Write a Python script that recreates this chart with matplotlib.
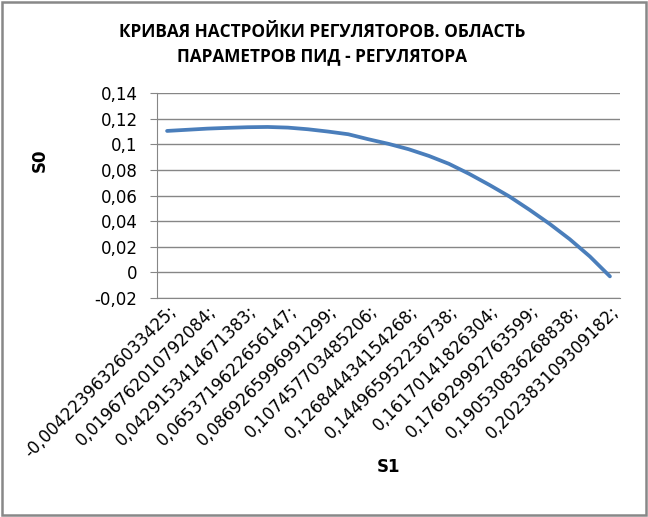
import matplotlib
matplotlib.use("Agg")
from matplotlib import pyplot as plt
from matplotlib.patches import Rectangle

plt.rcParams['font.family'] = ['DejaVu Sans']

# S1 category labels (only every second category is labelled on the chart)
s1_labels = [
    "-0,00422396326033425;", "0,0196762010792084;", "0,0429153414671383;",
    "0,0653719622656147;", "0,0869265996991299;", "0,107457703485206;",
    "0,126844434154268;", "0,144965952236738;", "0,16170141826304;",
    "0,176929992763599;", "0,190530836268838;", "0,202383109309182;",
]

# S0 values, 23 categories
s0 = [0.1106, 0.1115, 0.1124, 0.1130, 0.1135, 0.1137, 0.1132, 0.1119,
      0.1101, 0.1080, 0.1041, 0.1005, 0.0963, 0.0911, 0.0849, 0.0771,
      0.0685, 0.0594, 0.0490, 0.0380, 0.0260, 0.0125, -0.0031]

yticks = [-0.02, 0, 0.02, 0.04, 0.06, 0.08, 0.1, 0.12, 0.14]
ytick_labels = ["-0,02", "0", "0,02", "0,04", "0,06", "0,08", "0,1", "0,12", "0,14"]

fig = plt.figure(figsize=(6.48, 5.17), dpi=100)
ax = fig.add_axes([0.2423, 0.4236, 0.7145, 0.3959])

x = list(range(len(s0)))
ax.plot(x, s0, color="#4A7EBB", linewidth=2.7, solid_capstyle="round")

ax.set_xlim(-0.5, len(s0) - 0.5)
ax.set_ylim(-0.02, 0.14)
ax.set_yticks(yticks)
ax.set_yticklabels(ytick_labels, fontsize=12)
ax.yaxis.grid(True, color="#868686", linewidth=1)
ax.set_axisbelow(True)

ax.set_xticks(x[::2])
ax.set_xticklabels(s1_labels, rotation=45, ha="right", va="top",
                   rotation_mode="anchor", fontsize=12)
ax.tick_params(axis="x", length=0, pad=3)
ax.tick_params(axis="y", length=5, color="#868686", pad=9)

for side in ["top", "right"]:
    ax.spines[side].set_visible(False)
for side in ["left", "bottom"]:
    ax.spines[side].set_color("#868686")

fig.text(40 / 648, 1 - 160 / 517, "S0", fontsize=12, fontweight="bold",
         rotation=90, ha="center", va="center")
fig.text(388 / 648, 1 - 467 / 517, "S1", fontsize=12, fontweight="bold",
         ha="center", va="center")

fig.text(322 / 648, 1 - 44.5 / 517, "КРИВАЯ НАСТРОЙКИ РЕГУЛЯТОРОВ. ОБЛАСТЬ\nПАРАМЕТРОВ ПИД - РЕГУЛЯТОРА",
         family="Open Sans", fontsize=12.4, fontweight="bold", ha="center", va="center",
         linespacing=1.45)

# chart area border
fig.patches.append(Rectangle((0.003, 0.003), 0.994, 0.994, transform=fig.transFigure,
                             fill=False, edgecolor="#888888", linewidth=1.8))

fig.savefig("out.png", dpi=100)
